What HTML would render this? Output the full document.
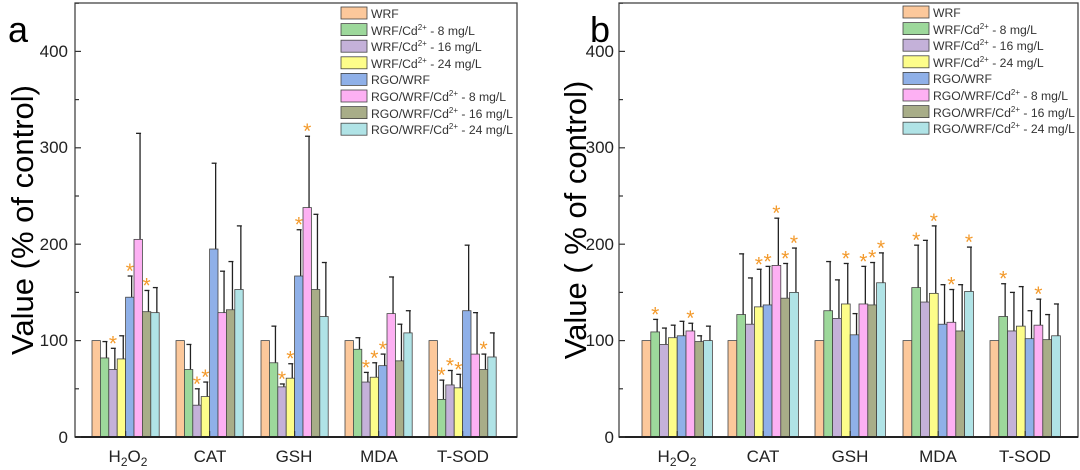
<!DOCTYPE html>
<html><head><meta charset="utf-8"><style>
html,body{margin:0;padding:0;background:#fff;}
svg{display:block;font-family:"Liberation Sans",Arial,sans-serif;}
</style></head><body>
<svg id="s" width="1080" height="470" viewBox="0 0 1080 470" xmlns="http://www.w3.org/2000/svg">
<rect width="1080" height="470" fill="#fff"/>
<!-- panel a -->
<text x="8" y="42" font-size="36">a</text>
<text transform="translate(33,220) rotate(-90)" font-size="31" text-anchor="middle">Value (% of control)</text>
<g font-size="17" text-anchor="end" fill="#222">
<text x="68" y="443">0</text><text x="68" y="346">100</text><text x="68" y="250">200</text><text x="68" y="153">300</text><text x="68" y="57">400</text>
</g>
<g font-size="17" text-anchor="middle" fill="#222">
<text x="128" y="462">H<tspan font-size="12" dy="4">2</tspan><tspan dy="-4">O</tspan><tspan font-size="12" dy="4">2</tspan></text>
<text x="210" y="462">CAT</text><text x="294" y="462">GSH</text><text x="379" y="462">MDA</text><text x="463" y="462">T-SOD</text>
</g>
<!-- panel b -->
<text x="590" y="42" font-size="36">b</text>
<text transform="translate(586,220) rotate(-90)" font-size="31" text-anchor="middle">Value ( % of control)</text>
<g font-size="17" text-anchor="end" fill="#222">
<text x="614" y="443">0</text><text x="614" y="346">100</text><text x="614" y="250">200</text><text x="614" y="153">300</text><text x="614" y="57">400</text>
</g>
<g font-size="17" text-anchor="middle" fill="#222">
<text x="677" y="462">H<tspan font-size="12" dy="4">2</tspan><tspan dy="-4">O</tspan><tspan font-size="12" dy="4">2</tspan></text>
<text x="763" y="462">CAT</text><text x="850" y="462">GSH</text><text x="938" y="462">MDA</text><text x="1025" y="462">T-SOD</text>
</g>
<g id="legA" font-size="12.2" fill="#333">
<text x="371" y="18">WRF</text>
<text x="371" y="35">WRF/Cd<tspan font-size="8" dy="-5">2+</tspan><tspan dy="5"> - 8 mg/L</tspan></text>
<text x="371" y="51">WRF/Cd<tspan font-size="8" dy="-5">2+</tspan><tspan dy="5"> - 16 mg/L</tspan></text>
<text x="371" y="68">WRF/Cd<tspan font-size="8" dy="-5">2+</tspan><tspan dy="5"> - 24 mg/L</tspan></text>
<text x="371" y="84">RGO/WRF</text>
<text x="371" y="101">RGO/WRF/Cd<tspan font-size="8" dy="-5">2+</tspan><tspan dy="5"> - 8 mg/L</tspan></text>
<text x="371" y="118">RGO/WRF/Cd<tspan font-size="8" dy="-5">2+</tspan><tspan dy="5"> - 16 mg/L</tspan></text>
<text x="371" y="134">RGO/WRF/Cd<tspan font-size="8" dy="-5">2+</tspan><tspan dy="5"> - 24 mg/L</tspan></text>
</g>
<g id="legB" font-size="12.2" fill="#333">
<text x="933" y="17">WRF</text>
<text x="933" y="34">WRF/Cd<tspan font-size="8" dy="-5">2+</tspan><tspan dy="5"> - 8 mg/L</tspan></text>
<text x="933" y="50">WRF/Cd<tspan font-size="8" dy="-5">2+</tspan><tspan dy="5"> - 16 mg/L</tspan></text>
<text x="933" y="67">WRF/Cd<tspan font-size="8" dy="-5">2+</tspan><tspan dy="5"> - 24 mg/L</tspan></text>
<text x="933" y="83">RGO/WRF</text>
<text x="933" y="100">RGO/WRF/Cd<tspan font-size="8" dy="-5">2+</tspan><tspan dy="5"> - 8 mg/L</tspan></text>
<text x="933" y="117">RGO/WRF/Cd<tspan font-size="8" dy="-5">2+</tspan><tspan dy="5"> - 16 mg/L</tspan></text>
<text x="933" y="133">RGO/WRF/Cd<tspan font-size="8" dy="-5">2+</tspan><tspan dy="5"> - 24 mg/L</tspan></text>
</g>
</svg>
<script>
(function(){
var NS="http://www.w3.org/2000/svg",s=document.getElementById("s");
function el(t,a,txt){var e=document.createElementNS(NS,t);for(var k in a)e.setAttribute(k,a[k]);if(txt)e.textContent=txt;s.appendChild(e);return e;}
var C=["#fcc89b","#9dd89b","#c4b1d9","#fdfd8a","#8fb0e8","#fdb0f3","#a8ad88","#b0e3e6"];
var A=[[[100],[82,99],[70,92,1],[81,105],[145,167,1],[205,315],[130,152,1],[129,155]],
[[100],[70,96],[33,50,1],[42,57,1],[195,284],[129,172],[132,182],[153,219]],
[[100],[77,115],[52,55,1],[61,76,1],[167,215,1],[238,312,1],[153,231],[125,181]],
[[100],[91,103],[57,67,1],[62,77,1],[74,86,1],[128,166],[79,117],[108,131]],
[[100],[39,59,1],[54,69,1],[51,65,1],[131,199],[86,129],[70,86,1],[83,108]]];
var B=[[[100],[109,122,1],[96,113],[103,116],[105,120],[110,118,1],[99,105],[100,115]],
[[100],[127,190],[117,165],[135,174,1],[137,177,1],[178,227,1],[144,180,1],[150,196,1]],
[[100],[131,182],[123,163],[138,180,1],[106,128],[138,177,1],[137,181,1],[160,191,1]],
[[100],[155,199,1],[140,204],[149,219,1],[117,158],[119,153,1],[110,158],[151,197,1]],
[[100],[125,159,1],[110,150],[115,156],[102,131],[116,143,1],[101,127],[105,138]]];
function panel(D,starts,w,L,R,legX,legY0){
 var y=function(v){return 437-v*0.964;};
 D.forEach(function(g,gi){g.forEach(function(b,i){
  var x=starts[gi]+i*w;
  if(b[1]){var lx=x+w*0.72;el("line",{x1:lx,y1:y(b[0]),x2:lx,y2:y(b[1]),stroke:"#222","stroke-width":1.3});
   el("line",{x1:lx-4,y1:y(b[1]),x2:lx+1,y2:y(b[1]),stroke:"#222","stroke-width":1.3});}
  el("rect",{x:x,y:y(b[0]),width:w,height:b[0]*0.964,fill:C[i],stroke:"#444","stroke-width":0.8});
  if(b[2])el("text",{x:x+w/2,y:y(b[1])+2,"font-size":21,fill:"#f39a2c","text-anchor":"middle"},"*");
 });
 var cx=starts[gi]+4*w;el("line",{x1:cx,y1:437,x2:cx,y2:431,stroke:"#333","stroke-width":1.2});});
 el("rect",{x:L,y:3,width:R-L,height:434,fill:"none",stroke:"#444","stroke-width":1.3});
 el("line",{x1:L,y1:437,x2:R,y2:437,stroke:"#222","stroke-width":2});
 for(var v=0;v<=450;v+=50){el("line",{x1:L,y1:y(v),x2:L+(v%100?4:6),y2:y(v),stroke:"#333","stroke-width":1.2});}
 for(var i=0;i<8;i++)el("rect",{x:legX,y:legY0+i*16.6,width:26,height:12,fill:C[i],stroke:"#444","stroke-width":0.8});
}
panel(A,[92,176,261,345,429],8.4,75,517,341,7);
panel(B,[642,728,815,903,990],8.8,619,1078,903,6);
})();
</script>
</body></html>
